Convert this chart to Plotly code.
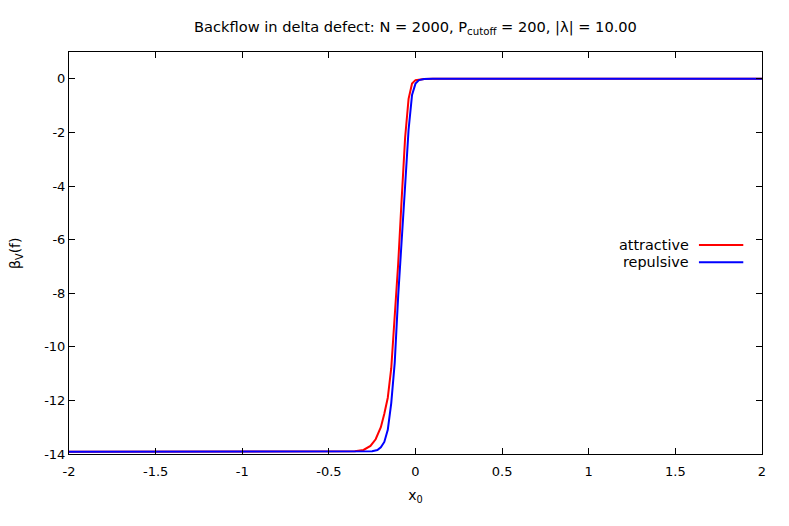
import plotly.graph_objects as go

# Attractive (red) curve
x_attr = [-2.0, -1.0, -0.5, -0.4, -0.35, -0.3, -0.26, -0.23, -0.2, -0.18, -0.16, -0.14,
          -0.12, -0.10, -0.08, -0.06, -0.04, -0.02, 0.0, 0.05, 0.1, 1.0, 2.0]
y_attr = [-13.92, -13.92, -13.92, -13.91, -13.9, -13.85, -13.7, -13.45, -13.0, -12.5, -11.9, -10.8,
          -9.0, -6.9, -4.5, -2.2, -0.75, -0.18, -0.05, -0.01, 0.0, 0.0, 0.0]

# Repulsive (blue) curve
x_rep = [-2.0, -1.0, -0.5, -0.3, -0.25, -0.22, -0.2, -0.18, -0.16, -0.14, -0.12,
         -0.10, -0.08, -0.06, -0.04, -0.02, 0.0, 0.02, 0.05, 0.1, 1.0, 2.0]
y_rep = [-13.92, -13.92, -13.92, -13.92, -13.9, -13.85, -13.75, -13.55, -13.1, -12.1, -10.6,
         -8.1, -6.2, -4.0, -1.9, -0.6, -0.18, -0.05, -0.01, 0.0, 0.0, 0.0]

x_ticks = [-2, -1.5, -1, -0.5, 0, 0.5, 1, 1.5, 2]
y_ticks = [0, -2, -4, -6, -8, -10, -12, -14]

series_names = ["attractive", "repulsive"]
series_colors = ["#ff0000", "#0000ff"]

fig = go.Figure()
fig.add_trace(go.Scatter(x=x_attr, y=y_attr, mode="lines", name=series_names[0],
                         line=dict(color=series_colors[0], width=2), showlegend=False))
fig.add_trace(go.Scatter(x=x_rep, y=y_rep, mode="lines", name=series_names[1],
                         line=dict(color=series_colors[1], width=2), showlegend=False))

font = "DejaVu Sans, sans-serif"
axis_common = dict(showline=True, linecolor="black", linewidth=1, mirror="ticks",
                   ticks="inside", ticklen=6, tickcolor="black", showgrid=False,
                   zeroline=False, tickfont=dict(family=font, size=13, color="black"))

W, H = 789, 526
L, R, T, B = 61, 35, 44, 80  # page has an 8px body offset

fig.update_layout(
    width=W, height=H,
    margin=dict(l=L, r=R, t=T, b=B),
    paper_bgcolor="white", plot_bgcolor="white",
    title=dict(text="Backflow in delta defect: N = 2000, P<sub>cutoff</sub> = 200, |λ| = 10.00",
               x=(L + (W - L - R) / 2) / W, xanchor="center", y=1 - 19 / H, yanchor="middle",
               font=dict(family=font, size=14.6, color="black")),
    xaxis=dict(range=[-2, 2], tickvals=x_ticks, ticktext=[str(v) for v in x_ticks],
               ticklabelstandoff=5,
               title=dict(text="x<sub>0</sub>", font=dict(family=font, size=14, color="black"),
                          standoff=12),
               **axis_common),
    yaxis=dict(range=[-14, 1], tickvals=y_ticks, ticktext=[str(v) for v in y_ticks],
               **axis_common),
)

# y-axis title as a rotated annotation (placed like gnuplot's ylabel)
fig.add_annotation(x=0, y=0.5, xref="paper", yref="paper", text="β<sub>V</sub>(f)",
                   textangle=-90, showarrow=False, xanchor="center", yanchor="middle",
                   xshift=-53, font=dict(family=font, size=14, color="black"))

# gnuplot-style key: text right-aligned, sample line to the right
legend_y = [0.52, 0.477]
for name, color, ly in zip(series_names, series_colors, legend_y):
    fig.add_annotation(x=0.897, y=ly, xref="paper", yref="paper", text=name,
                       showarrow=False, xanchor="right", yanchor="middle",
                       font=dict(family=font, size=14.4, color="black"))
    fig.add_shape(type="line", xref="paper", yref="paper", x0=0.909, x1=0.973,
                  y0=ly, y1=ly, line=dict(color=color, width=2))

fig.write_html("out.html")
